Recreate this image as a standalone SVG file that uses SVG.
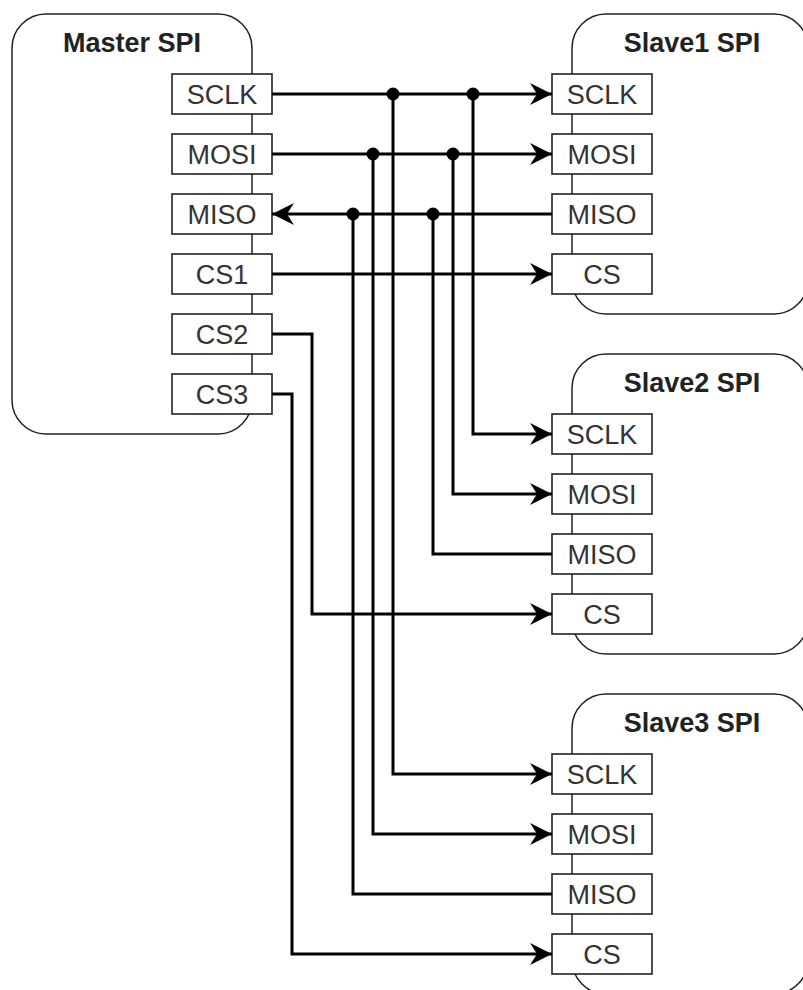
<svg xmlns="http://www.w3.org/2000/svg" width="803" height="990" viewBox="0 0 803 990">
<style>
.cont{fill:#fff;stroke:#222;stroke-width:1.5}
.port{fill:#fff;stroke:#222;stroke-width:1.6}
.title{font-family:"Liberation Sans",Arial,sans-serif;font-weight:bold;font-size:27px;fill:#222;text-anchor:middle}
.lbl{font-family:"Liberation Sans",Arial,sans-serif;font-size:27px;fill:#333;text-anchor:middle}
.wire{fill:none;stroke:#000;stroke-width:3}
.arr{marker-end:url(#ah)}
.dot{fill:#000}
</style>
<defs>
<marker id="ah" markerUnits="userSpaceOnUse" markerWidth="24" markerHeight="24" refX="22" refY="11" orient="auto">
<path d="M22,11 L0,0 L7,11 L0,22 Z" fill="#000"/>
</marker>
</defs>
<g id="master">
<rect class="cont" x="12" y="14" width="240" height="420" rx="34"/>
<text class="title" x="132" y="52">Master SPI</text>
<rect class="port" x="172" y="74" width="100" height="40"/><text class="lbl" x="222" y="103.5">SCLK</text>
<rect class="port" x="172" y="134" width="100" height="40"/><text class="lbl" x="222" y="163.5">MOSI</text>
<rect class="port" x="172" y="194" width="100" height="40"/><text class="lbl" x="222" y="223.5">MISO</text>
<rect class="port" x="172" y="254" width="100" height="40"/><text class="lbl" x="222" y="283.5">CS1</text>
<rect class="port" x="172" y="314" width="100" height="40"/><text class="lbl" x="222" y="343.5">CS2</text>
<rect class="port" x="172" y="374" width="100" height="40"/><text class="lbl" x="222" y="403.5">CS3</text>
</g>
<g id="slave1">
<rect class="cont" x="572" y="14" width="236" height="300" rx="34"/>
<text class="title" x="692" y="52">Slave1 SPI</text>
<rect class="port" x="552" y="74" width="100" height="40"/><text class="lbl" x="602" y="103.5">SCLK</text>
<rect class="port" x="552" y="134" width="100" height="40"/><text class="lbl" x="602" y="163.5">MOSI</text>
<rect class="port" x="552" y="194" width="100" height="40"/><text class="lbl" x="602" y="223.5">MISO</text>
<rect class="port" x="552" y="254" width="100" height="40"/><text class="lbl" x="602" y="283.5">CS</text>
</g>
<g id="slave2">
<rect class="cont" x="572" y="354" width="236" height="300" rx="34"/>
<text class="title" x="692" y="392">Slave2 SPI</text>
<rect class="port" x="552" y="414" width="100" height="40"/><text class="lbl" x="602" y="443.5">SCLK</text>
<rect class="port" x="552" y="474" width="100" height="40"/><text class="lbl" x="602" y="503.5">MOSI</text>
<rect class="port" x="552" y="534" width="100" height="40"/><text class="lbl" x="602" y="563.5">MISO</text>
<rect class="port" x="552" y="594" width="100" height="40"/><text class="lbl" x="602" y="623.5">CS</text>
</g>
<g id="slave3">
<rect class="cont" x="572" y="694" width="236" height="300" rx="34"/>
<text class="title" x="692" y="732">Slave3 SPI</text>
<rect class="port" x="552" y="754" width="100" height="40"/><text class="lbl" x="602" y="783.5">SCLK</text>
<rect class="port" x="552" y="814" width="100" height="40"/><text class="lbl" x="602" y="843.5">MOSI</text>
<rect class="port" x="552" y="874" width="100" height="40"/><text class="lbl" x="602" y="903.5">MISO</text>
<rect class="port" x="552" y="934" width="100" height="40"/><text class="lbl" x="602" y="963.5">CS</text>
</g>
<g id="connectors">
<path class="wire arr" d="M272,94 H552"/>
<path class="wire arr" d="M272,154 H552"/>
<path class="wire arr" d="M552,214 H272"/>
<path class="wire arr" d="M272,274 H552"/>
<path class="wire arr" d="M473,94 V434 H552"/>
<path class="wire arr" d="M453,154 V494 H552"/>
<path class="wire" d="M433,214 V554 H552"/>
<path class="wire arr" d="M393,94 V774 H552"/>
<path class="wire arr" d="M373,154 V834 H552"/>
<path class="wire" d="M353,214 V894 H552"/>
<path class="wire arr" d="M272,334 H312 V614 H552"/>
<path class="wire arr" d="M272,394 H292 V954 H552"/>
<circle class="dot" cx="393" cy="94" r="6.5"/>
<circle class="dot" cx="473" cy="94" r="6.5"/>
<circle class="dot" cx="373" cy="154" r="6.5"/>
<circle class="dot" cx="453" cy="154" r="6.5"/>
<circle class="dot" cx="353" cy="214" r="6.5"/>
<circle class="dot" cx="433" cy="214" r="6.5"/>
</g>
</svg>
